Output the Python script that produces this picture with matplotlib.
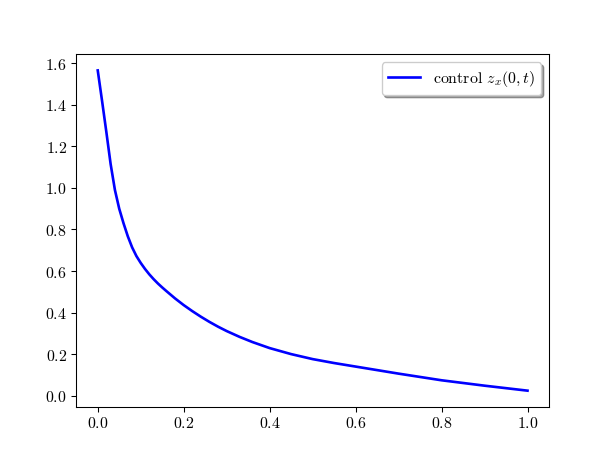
import matplotlib
matplotlib.use('Agg')
from matplotlib import pyplot as plt

# time grid and control values
t = [0, 0.01, 0.02, 0.03, 0.04, 0.05, 0.06, 0.07, 0.08, 0.09, 0.10, 0.11, 0.12,
     0.13, 0.14, 0.15, 0.16, 0.18, 0.20, 0.22, 0.24, 0.26, 0.28, 0.30, 0.33,
     0.36, 0.40, 0.45, 0.50, 0.55, 0.60, 0.70, 0.80, 0.90, 1.00]
control = [1.566, 1.42, 1.27, 1.115, 0.99, 0.90, 0.83, 0.767, 0.714, 0.672, 0.639, 0.610, 0.584,
           0.561, 0.540, 0.521, 0.503, 0.468, 0.436, 0.407, 0.380, 0.355, 0.332, 0.311, 0.283,
           0.258, 0.229, 0.200, 0.176, 0.157, 0.140, 0.106, 0.074, 0.048, 0.024]

# computer modern look, like usetex
plt.rcParams['font.family'] = 'serif'
plt.rcParams['font.serif'] = ['cmr10']
plt.rcParams['mathtext.fontset'] = 'cm'
plt.rcParams['axes.formatter.use_mathtext'] = True
plt.rcParams['font.size'] = 12

plt.figure(figsize=(6.4, 4.8), dpi=95.3125)
plt.plot(t, control, color='b', linewidth=2, label=r'control $z_x(0,t)$')
plt.legend(loc='upper right', shadow=True)

plt.savefig('out.png')
